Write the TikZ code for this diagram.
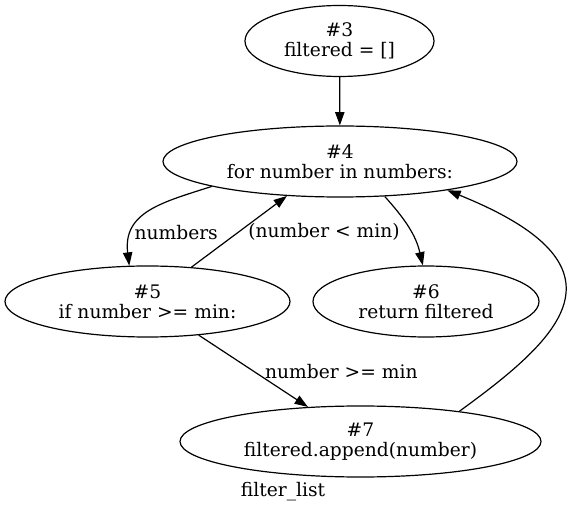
\documentclass[tikz,border=0pt]{standalone}
\usepackage{fontspec}
\setmainfont{DejaVu Serif}
\usetikzlibrary{arrows.meta,shapes.geometric}
\begin{document}
\begin{tikzpicture}[x=.75pt,y=-.75pt,line width=.9pt,
    >={Triangle[length=10pt,width=7pt]},
    every node/.style={font=\fontsize{14pt}{15pt}\selectfont},
    stmt/.style={ellipse,draw,align=center,inner sep=0pt,minimum height=53.25pt,minimum width=#1*.75pt}]
  \useasboundingbox (0,0) rectangle (568,513);
  \node[stmt=189] (n3) at (339.5,41) {\#3\\filtered = []};
  \node[stmt=354] (n4) at (340,161.5) {\#4\\for number in numbers:};
  \node[stmt=285] (n5) at (147.5,301.5) {\#5\\if number >= min:};
  \node[stmt=226] (n6) at (426,301.5) {\#6\\return filtered};
  \node[stmt=361] (n7) at (360.5,441.5) {\#7\\filtered.append(number)};
  \node (title) at (283,492) {filter\_list};
  \draw[->] (n3) -- (n4);
  \draw[->] (n4.191) to[out=198,in=97,out distance=37.5pt,in distance=41pt] node[pos=.75,anchor=west,inner sep=1pt]{numbers} (n5.117);
  \draw[->] (n5.38) -- node[right=3pt]{(number < min)} (n4.213);
  \draw[->] (n4.322) to[out=-48,in=103] (n6.95);
  \draw[->] (n5) -- node[right=5pt]{number >= min} (n7);
  \draw[->] (n7.17) to[out=36,in=-22,out distance=94pt,in distance=154pt] (n4.345);
\end{tikzpicture}
\end{document}
